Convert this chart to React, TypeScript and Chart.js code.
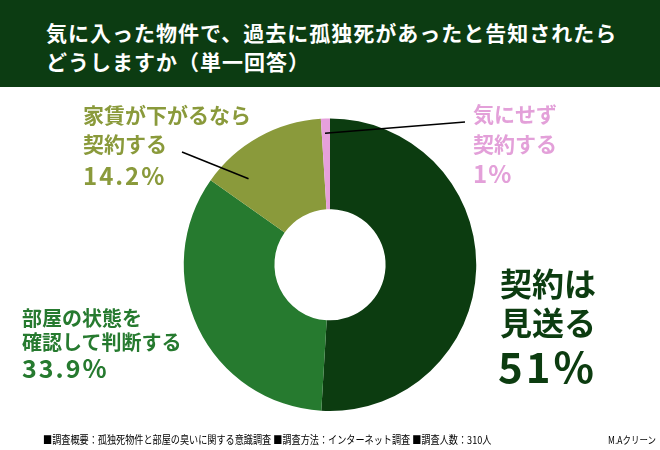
import React, { useRef, useEffect } from 'react';
import { Chart, registerables } from 'chart.js';

Chart.register(...registerables);

// answers, in the order they run clockwise from 12 o'clock
const categories = ['契約は見送る', '部屋の状態を確認して判断する', '家賃が下がるなら契約する', '気にせず契約する'];
const labelLines = [['契約は', '見送る'], ['部屋の状態を', '確認して判断する'], ['家賃が下がるなら', '契約する'], ['気にせず', '契約する']];
const shares = [51, 33.9, 14.2, 1];
const sliceColors = ['#0c3c10', '#267a2f', '#8a9a3b', '#e6a0dc'];

const titleLines = ['気に入った物件で、過去に孤独死があったと告知されたら', 'どうしますか（単一回答）'];
const footnote = '■調査概要：孤独死物件と部屋の臭いに関する意識調査 ■調査方法：インターネット調査 ■調査人数：310人';
const credit = 'M.Aクリーン';

const FONT = '"Noto Sans CJK JP", "Noto Sans", sans-serif';

// where a leader line touches its slice: t = along the arc, f = share of the radius
const leaders: { index: number; from: [number, number]; t: number; f: number }[] = [
	{ index: 2, from: [182, 152], t: 0.22, f: 0.81 },
	{ index: 3, from: [465, 122], t: 0.4, f: 0.9 },
];

const leaderPlugin = {
	id: 'leaders',
	afterDatasetsDraw(chart: Chart) {
		const ctx = chart.ctx;
		const meta = chart.getDatasetMeta(0);
		ctx.save();
		ctx.strokeStyle = '#000';
		ctx.lineWidth = 1.5;
		leaders.forEach((l) => {
			const arc: any = meta.data[l.index];
			const { x, y, startAngle, endAngle, outerRadius } = arc.getProps(['x', 'y', 'startAngle', 'endAngle', 'outerRadius'], true);
			const a = startAngle + (endAngle - startAngle) * l.t;
			const r = outerRadius * l.f;
			ctx.beginPath();
			ctx.moveTo(l.from[0], l.from[1]);
			ctx.lineTo(x + Math.cos(a) * r, y + Math.sin(a) * r);
			ctx.stroke();
		});
		ctx.restore();
	},
};

const DonutChart: React.FC = () => {
	const chartRef = useRef<HTMLCanvasElement>(null);
	const chartInstance = useRef<Chart | null>(null);

	useEffect(() => {
		const ctx = chartRef.current?.getContext('2d');
		if (ctx) {
			chartInstance.current = new Chart(ctx, {
				type: 'doughnut',
				data: {
					labels: categories,
					datasets: [{
						data: shares,
						backgroundColor: sliceColors,
						borderWidth: 0,
					}],
				},
				options: {
					animation: false,
					responsive: false,
					cutout: '38%',
					layout: { padding: { top: 118.5, bottom: 39, left: 100, right: 100 } },
					plugins: {
						legend: { display: false },
						tooltip: { enabled: false },
					},
				},
				plugins: [leaderPlugin],
			});
		}

		return () => {
			chartInstance.current?.destroy();
		};
	}, []);

	return <canvas ref={chartRef} width={660} height={450} style={{ position: 'absolute', left: 0, top: 0 }} />;
};

const textBlock = (left: number, top: number, color: string, size: number, lh: number, lines: string[]) => (
	<div style={{ position: 'absolute', left, top, color, fontSize: size, lineHeight: `${lh}px`, fontWeight: 700, whiteSpace: 'nowrap' }}>
		{lines.map((s, i) => <div key={i}>{s}</div>)}
	</div>
);

const pct = (i: number) => `${shares[i]}%`;

const App: React.FC = () => {
	return (
		<div style={{ position: 'fixed', left: 0, top: 0, width: 660, height: 450, background: '#fff', fontFamily: FONT, overflow: 'hidden' }}>
			<div style={{ position: 'absolute', left: 0, top: 0, width: 660, height: 87, background: '#0c3c12' }} />
			<div style={{ position: 'absolute', left: 46, top: 18, color: '#fff', fontSize: 21, fontWeight: 700, lineHeight: '29px', letterSpacing: 1, whiteSpace: 'nowrap' }}>
				{titleLines.map((s, i) => <div key={i}>{s}</div>)}
			</div>
			<DonutChart />

			{/* 家賃が下がるなら */}
			{textBlock(83, 100, sliceColors[2], 21, 29, labelLines[2])}
			<div style={{ position: 'absolute', left: 83, top: 159, color: sliceColors[2], fontSize: 24, fontWeight: 700, lineHeight: '32px', letterSpacing: 2 }}>{pct(2)}</div>

			{/* 気にせず */}
			{textBlock(473, 98, '#e3a0d9', 21, 30, labelLines[3])}
			<div style={{ position: 'absolute', left: 473, top: 157, color: '#e3a0d9', fontSize: 24, fontWeight: 700, lineHeight: '32px', letterSpacing: 1 }}>{pct(3)}</div>

			{/* 部屋の状態を */}
			{textBlock(22, 306, sliceColors[1], 20, 24, labelLines[1])}
			<div style={{ position: 'absolute', left: 22, top: 351, color: sliceColors[1], fontSize: 25, fontWeight: 700, lineHeight: '32px', letterSpacing: 2 }}>{pct(1)}</div>

			{/* 契約は見送る */}
			{textBlock(500, 263, sliceColors[0], 32, 39, labelLines[0])}
			<div style={{ position: 'absolute', left: 498, top: 340, color: sliceColors[0], fontSize: 42, fontWeight: 700, lineHeight: '50px', letterSpacing: 3 }}>{pct(0)}</div>

			<div style={{ position: 'absolute', left: 43, top: 432, fontSize: 11, lineHeight: '14px', color: '#000', whiteSpace: 'nowrap', transform: 'scaleX(0.83)', transformOrigin: 'left top' }}>{footnote}</div>
			<div style={{ position: 'absolute', left: 608, top: 433, fontSize: 10, lineHeight: '14px', color: '#000', whiteSpace: 'nowrap', transform: 'scaleX(0.85)', transformOrigin: 'left top' }}>{credit}</div>
		</div>
	);
};

export default App;
